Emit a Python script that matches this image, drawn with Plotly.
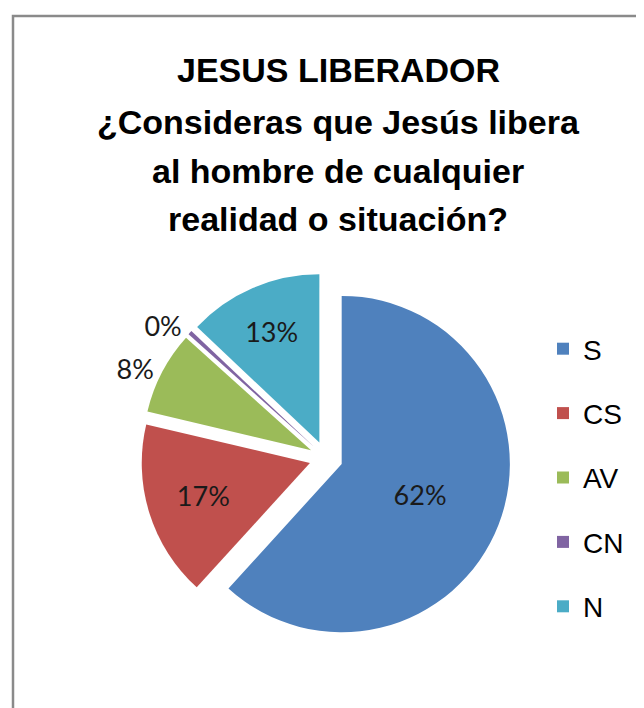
import plotly.graph_objects as go

categories = ["S", "CS", "AV", "CN", "N"]
values = [62, 17, 8, 0.4, 13]
colors = ["#4F81BD", "#C0504D", "#9BBB59", "#8064A2", "#4BACC6"]
text_pos = ["inside", "inside", "outside", "outside", "inside"]

title_lines = ["JESUS LIBERADOR", "¿Consideras que Jesús libera",
               "al hombre de cualquier", "realidad o situación?"]
title_y_px = [62, 114, 163, 211]

fig = go.Figure()

cx, cy, size = 318, 450, 370
fig.add_trace(go.Pie(
    labels=categories,
    values=values,
    sort=False,
    direction="clockwise",
    rotation=0,
    pull=[0.1, 0.1, 0.1, 0.1, 0.1],
    marker=dict(colors=colors, line=dict(color="white", width=0)),
    texttemplate="%{percent:.0%}",
    textposition=text_pos,
    insidetextorientation="horizontal",
    textfont=dict(family="Lato, Open Sans, sans-serif", size=27, color="#1a1a1a"),
    outsidetextfont=dict(family="Lato, Open Sans, sans-serif", size=27, color="#1a1a1a"),
    showlegend=False,
    domain=dict(x=[(cx - size / 2) / 644, (cx + size / 2) / 644],
                y=[1 - (cy + size / 2) / 708, 1 - (cy - size / 2) / 708]),
))

# legend entries
for c, col in zip(categories, colors):
    fig.add_trace(go.Scatter(
        x=[None], y=[None], mode="markers", name=c,
        marker=dict(symbol="square", size=12, color=col),
        legendgroup=c, showlegend=True,
    ))

annotations = []
for line, ypx in zip(title_lines, title_y_px):
    annotations.append(dict(
        text=line, xref="paper", yref="paper",
        x=330 / 644, y=1 - ypx / 708, xanchor="center", yanchor="middle",
        showarrow=False,
        font=dict(family="Liberation Sans, Arial, sans-serif", size=34,
                  color="black", weight="bold"),
    ))

fig.update_layout(
    width=644, height=708,
    margin=dict(l=0, r=0, t=0, b=0),
    paper_bgcolor="white", plot_bgcolor="white",
    xaxis=dict(visible=False), yaxis=dict(visible=False),
    annotations=annotations,
    legend=dict(
        x=535 / 644, xanchor="left", y=1 - 316 / 708, yanchor="top",
        font=dict(family="Liberation Sans, Arial, sans-serif",
                  size=28, color="black"),
        tracegroupgap=25, itemsizing="constant", bgcolor="rgba(0,0,0,0)",
    ),
    shapes=[dict(type="rect", xref="paper", yref="paper",
                 x0=5 / 644, x1=1.05, y0=-0.05, y1=1 - 8 / 708,
                 line=dict(color="#8a8a8a", width=2.5))],
)

fig.write_html("out.html")
